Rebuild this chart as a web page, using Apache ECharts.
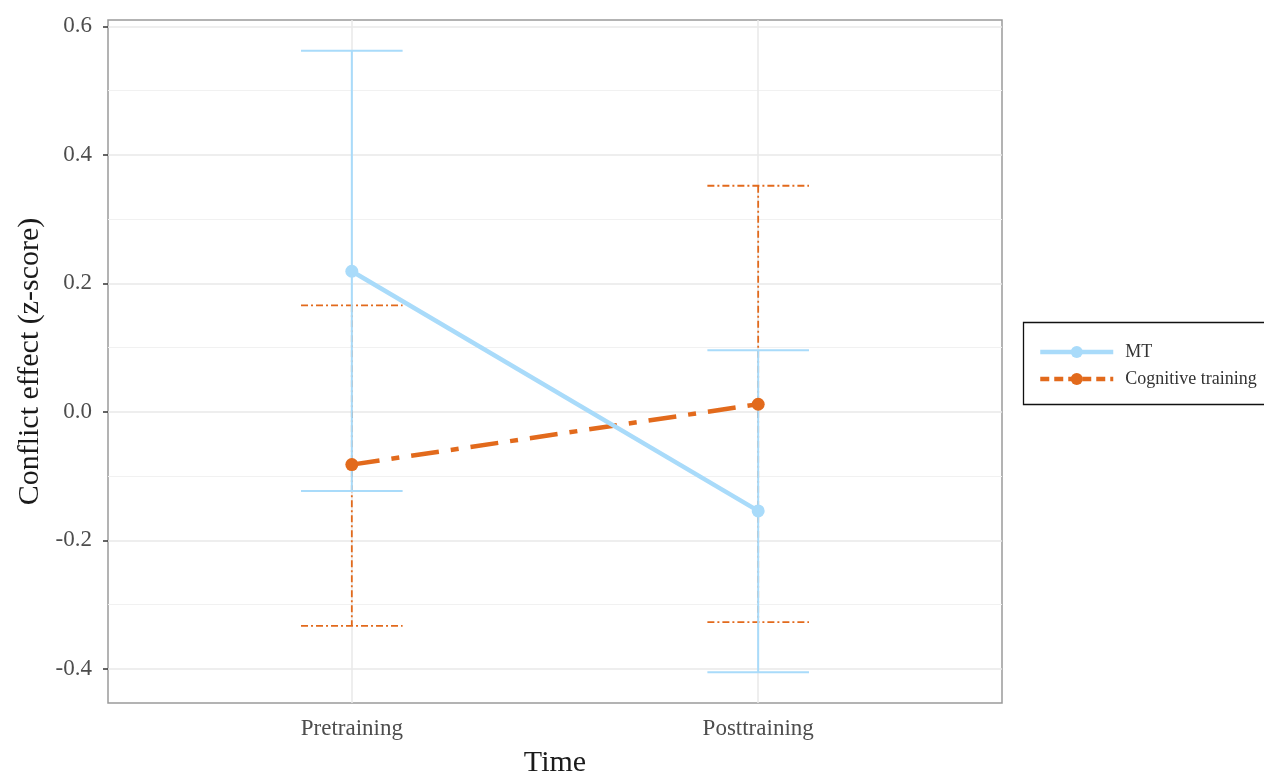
<!DOCTYPE html>
<html>
<head>
<meta charset="utf-8">
<title>Conflict effect by time</title>
<script src="https://cdn.jsdelivr.net/npm/echarts@6/dist/echarts.min.js"></script>
<style>
  html, body { margin: 0; padding: 0; background: #fff; }
  #chart { width: 1264px; height: 773px; }
</style>
</head>
<body>
<div id="chart"></div>
<script>
// Time points (x positions 1 and 2 on a value axis)
const timeLabels = ['Pretraining', 'Posttraining'];
const timePos = [1, 2];

// Group means
const mtMean = [0.219, -0.154];
const cogMean = [-0.082, 0.012];

// Error bar limits
const mtLow = [-0.123, -0.405];
const mtHigh = [0.562, 0.096];
const cogLow = [-0.333, -0.327];
const cogHigh = [0.166, 0.352];

// Axis ticks and grid lines
const yTicks = [-0.4, -0.2, 0.0, 0.2, 0.4, 0.6];
const yMinor = [-0.3, -0.1, 0.1, 0.3, 0.5];

const MT_COLOR = '#a9dbfa';
const COG_COLOR = '#e26a1c';
const SERIF = '"Liberation Serif", "DejaVu Serif", serif';
const CAP_HALF = 0.125;

function errorBars(color, width, dash) {
  return function (params, api) {
    const x = api.value(0);
    const top = api.coord([x, api.value(2)]);
    const bot = api.coord([x, api.value(1)]);
    const hw = api.size([CAP_HALF, 0])[0];
    const style = { stroke: color, lineWidth: width, lineDash: dash, fill: null };
    return {
      type: 'group',
      children: [
        { type: 'line', shape: { x1: top[0], y1: top[1], x2: bot[0], y2: bot[1] }, style },
        { type: 'line', shape: { x1: top[0] - hw, y1: top[1], x2: top[0] + hw, y2: top[1] }, style },
        { type: 'line', shape: { x1: bot[0] - hw, y1: bot[1], x2: bot[0] + hw, y2: bot[1] }, style }
      ]
    };
  };
}

const chart = echarts.init(document.getElementById('chart'), null, { renderer: 'canvas' });

const gridLines = []
  .concat(yMinor.map(v => ({ yAxis: v, lineStyle: { color: '#f1f1f1', width: 1.2, type: 'solid' } })))
  .concat(yTicks.map(v => ({ yAxis: v, lineStyle: { color: '#e8e8e8', width: 1.5, type: 'solid' } })))
  .concat(timePos.map(v => ({ xAxis: v, lineStyle: { color: '#e8e8e8', width: 1.5, type: 'solid' } })));

chart.setOption({
  backgroundColor: '#ffffff',
  animation: false,
  grid: {
    left: 108, top: 20, right: 262, bottom: 70,
    outerBoundsMode: 'none', containLabel: false,
    show: true, borderColor: '#9a9a9a', borderWidth: 1.5, backgroundColor: 'transparent'
  },
  xAxis: {
    type: 'value', min: 0.4, max: 2.6,
    name: 'Time', nameLocation: 'middle', nameGap: 45,
    nameTextStyle: { fontFamily: SERIF, fontSize: 30, color: '#1a1a1a' },
    axisLine: { show: false },
    splitLine: { show: false },
    axisTick: { show: true, customValues: timePos, length: 6, lineStyle: { color: '#333', width: 1.5 } },
    axisLabel: {
      customValues: timePos, margin: 14,
      fontFamily: SERIF, fontSize: 23, color: '#4d4d4d',
      formatter: v => timeLabels[timePos.indexOf(Math.round(v))] || ''
    }
  },
  yAxis: {
    type: 'value', min: -0.453, max: 0.61,
    name: 'Conflict effect (z-score)', nameLocation: 'middle', nameGap: 63,
    nameTextStyle: { fontFamily: SERIF, fontSize: 30, color: '#1a1a1a' },
    axisLine: { show: false },
    splitLine: { show: false },
    axisTick: { show: true, customValues: yTicks, length: 5, lineStyle: { color: '#333', width: 1.5 } },
    axisLabel: {
      customValues: yTicks, margin: 16,
      fontFamily: SERIF, fontSize: 23, color: '#4d4d4d',
      formatter: v => v.toFixed(1)
    }
  },
  legend: {
    orient: 'vertical', left: 1033, top: 338,
    itemWidth: 73, itemHeight: 15, itemGap: 9,
    textStyle: { fontFamily: SERIF, fontSize: 18, color: '#333', padding: [0, 0, 0, 7] },
    data: [
      { name: 'MT', lineStyle: { width: 4.5 } },
      { name: 'Cognitive training', lineStyle: { width: 4.5, type: [9, 5] } }
    ]
  },
  graphic: [{
    type: 'rect', left: 1021, top: 320, silent: true,
    shape: { width: 270, height: 82 },
    style: { fill: 'none', stroke: '#111', lineWidth: 1.3 }
  }],
  series: [
    {
      name: 'grid', type: 'line', data: [], silent: true, z: 0,
      markLine: { silent: true, z: 0, symbol: 'none', label: { show: false }, animation: false, data: gridLines }
    },
    {
      name: 'MT bars', type: 'custom', z: 12,
      renderItem: errorBars(MT_COLOR, 2, null),
      encode: { x: 0, y: [1, 2] },
      data: timePos.map((x, i) => [x, mtLow[i], mtHigh[i]])
    },
    {
      name: 'Cognitive bars', type: 'custom', z: 11,
      renderItem: errorBars(COG_COLOR, 1.8, [7, 3, 2, 3]),
      encode: { x: 0, y: [1, 2] },
      data: timePos.map((x, i) => [x, cogLow[i], cogHigh[i]])
    },
    {
      name: 'MT', type: 'line', z: 14,
      symbol: 'circle', symbolSize: 13,
      itemStyle: { color: MT_COLOR },
      lineStyle: { color: MT_COLOR, width: 4.5 },
      data: timePos.map((x, i) => [x, mtMean[i]])
    },
    {
      name: 'Cognitive training', type: 'line', z: 13,
      symbol: 'circle', symbolSize: 13,
      itemStyle: { color: COG_COLOR },
      lineStyle: { color: COG_COLOR, width: 4.5, type: [28, 12, 8, 12], cap: 'butt' },
      data: timePos.map((x, i) => [x, cogMean[i]])
    }
  ]
});
</script>
</body>
</html>
